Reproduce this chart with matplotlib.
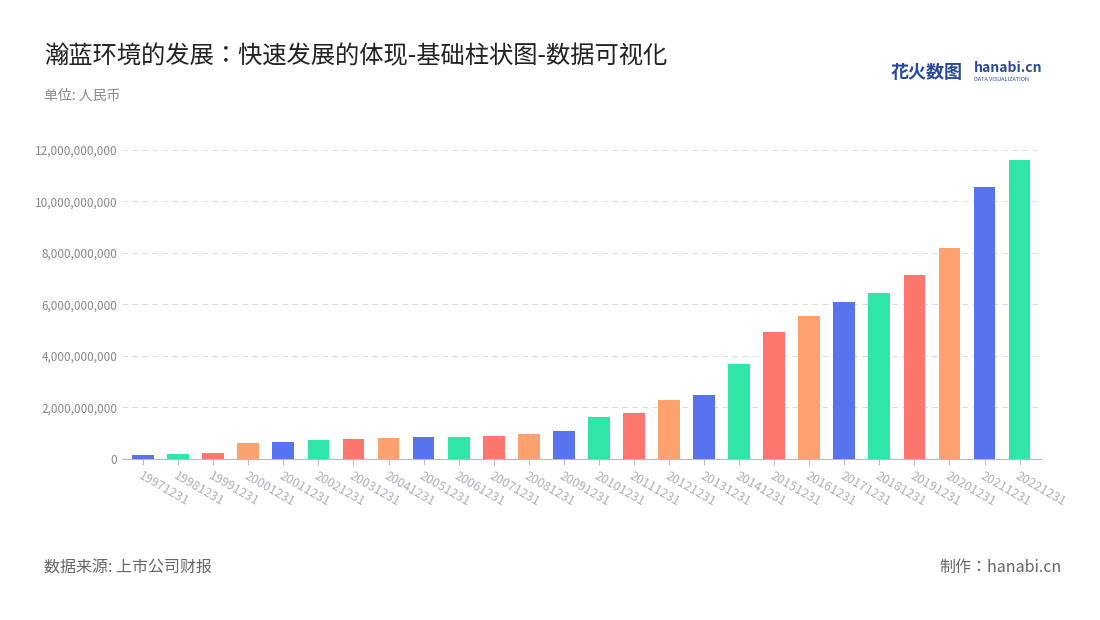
import matplotlib
matplotlib.use("Agg")
import matplotlib.pyplot as plt
from matplotlib.ticker import FuncFormatter

plt.rcParams["font.family"] = ["Noto Sans CJK SC", "Noto Sans CJK JP", "Noto Sans CJK TC", "Noto Sans CJK KR", "DejaVu Sans"]

categories = [f"{y}1231" for y in range(1997, 2023)]
values = [0.15e9, 0.2e9, 0.22e9, 0.62e9, 0.66e9, 0.74e9, 0.78e9, 0.8e9, 0.85e9, 0.85e9,
          0.9e9, 0.97e9, 1.09e9, 1.63e9, 1.79e9, 2.29e9, 2.49e9, 3.69e9, 4.93e9, 5.55e9,
          6.1e9, 6.45e9, 7.15e9, 8.19e9, 10.56e9, 11.63e9]
palette = ["#5873EE", "#2FE6A8", "#FF766F", "#FFA06F"]

fig = plt.figure(figsize=(11, 6.2), dpi=100)
ax = fig.add_axes([0.111, 0.26, 0.835, 0.498])
x = range(len(categories))
ax.bar(x, values, width=0.62, color=[palette[i % 4] for i in x], zorder=3)
ax.set_xlim(-0.6, len(categories) - 0.4)
ax.set_ylim(0, 12e9)
ax.set_yticks([i * 2e9 for i in range(7)])
ax.yaxis.set_major_formatter(FuncFormatter(lambda v, p: f"{int(v):,}"))
ax.grid(axis="y", linestyle=(0, (5, 4)), color="#dddddd", zorder=0)
ax.set_xticks(list(x))
ax.set_xticklabels(categories, rotation=-30, ha="left", rotation_mode="anchor", fontsize=9, color="#aab0bb")
ax.tick_params(axis="y", labelsize=8.5, colors="#888888", length=0)
ax.tick_params(axis="x", length=4, color="#bbbbbb")
for s in ["top", "right", "left"]:
    ax.spines[s].set_visible(False)
ax.spines["bottom"].set_color("#bbbbbb")

fig.text(0.04, 0.91, "瀚蓝环境的发展：快速发展的体现-基础柱状图-数据可视化", fontsize=17.5, color="#222222", va="center")
fig.text(0.04, 0.845, "单位: 人民币", fontsize=10, color="#888888", va="center")
fig.text(0.04, 0.085, "数据来源: 上市公司财报", fontsize=11.5, color="#666666", va="center")
fig.text(0.965, 0.085, "制作：hanabi.cn", fontsize=11.5, color="#666666", va="center", ha="right")
fig.text(0.81, 0.883, "花火数图", fontsize=13, color="#2a4a9a", fontweight="bold", va="center")
fig.text(0.885, 0.89, "hanabi.cn", fontsize=10, color="#2a4a9a", fontweight="bold", va="center")
fig.text(0.885, 0.872, "DATA VISUALIZATION", fontsize=4, color="#2a4a9a", va="center")
fig.savefig("out.png")
